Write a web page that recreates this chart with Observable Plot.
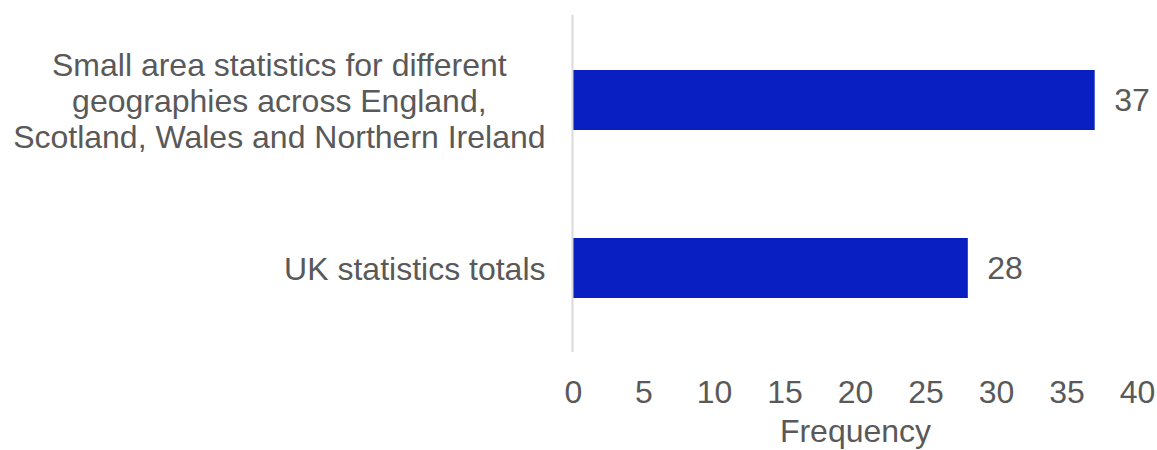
<!DOCTYPE html>
<html>
<head>
<meta charset="utf-8">
<script src="https://cdn.jsdelivr.net/npm/d3@7"></script>
<script src="https://cdn.jsdelivr.net/npm/@observablehq/plot@0.6"></script>
<style>
  html, body { margin: 0; padding: 0; background: #fff; }
  #chart svg { display: block; }
</style>
</head>
<body>
<div id="chart"></div>
<script>
const categories = [
  "Small area statistics for different geographies across England, Scotland, Wales and Northern Ireland",
  "UK statistics totals"
];
const categoryLabels = [
  "Small area statistics for different\ngeographies across England,\nScotland, Wales and Northern Ireland",
  "UK statistics totals"
];
const values = [37, 28];
const xTicks = [0, 5, 10, 15, 20, 25, 30, 35, 40];
const xLabel = "Frequency";

const data = categories.map((c, i) => ({category: c, label: categoryLabels[i], value: values[i]}));
const textColor = "#595959";
const font = "'Liberation Sans', Arial, Helvetica, sans-serif";
const fs = 32;

const chart = Plot.plot({
  width: 1157,
  height: 450,
  marginLeft: 573,
  marginRight: 20,
  marginTop: 15,
  marginBottom: 98,
  style: {fontFamily: font, fontSize: fs + "px", color: textColor, background: "#fff"},
  x: {domain: [0, 40], ticks: xTicks, label: null},
  y: {domain: categories, padding: 0, axis: null},
  marks: [
    Plot.barX(data, {x: "value", y: "category", fill: "#0a1fc2", insetTop: 54, insetBottom: 54}),
    Plot.ruleX([0], {stroke: "#d9d9d9", strokeWidth: 2, dx: -1}),
    Plot.text(data, {x: "value", y: "category", text: d => String(d.value), textAnchor: "start", dx: 19, fontSize: fs, fill: textColor}),
    Plot.text(data, {x: 0, y: "category", text: "label", textAnchor: "end", dx: -28, lineHeight: 1.125, fontSize: fs, fill: textColor, className: "cat-label"}),
    Plot.axisX({ticks: xTicks, tickSize: 0, tickPadding: 28, fontSize: fs, fill: textColor, label: null}),
    Plot.text([xLabel], {frameAnchor: "bottom", dy: 89, text: d => d, fontSize: fs, fill: textColor})
  ]
});
document.getElementById("chart").appendChild(chart);

// center the lines of wrapped category labels (Excel-style)
chart.querySelectorAll("g.cat-label text").forEach(t => {
  const spans = t.querySelectorAll("tspan");
  if (spans.length > 1) {
    const bb = t.getBBox();
    t.setAttribute("text-anchor", "middle");
    spans.forEach(s => s.setAttribute("x", bb.x + bb.width / 2));
  }
});
</script>
</body>
</html>
